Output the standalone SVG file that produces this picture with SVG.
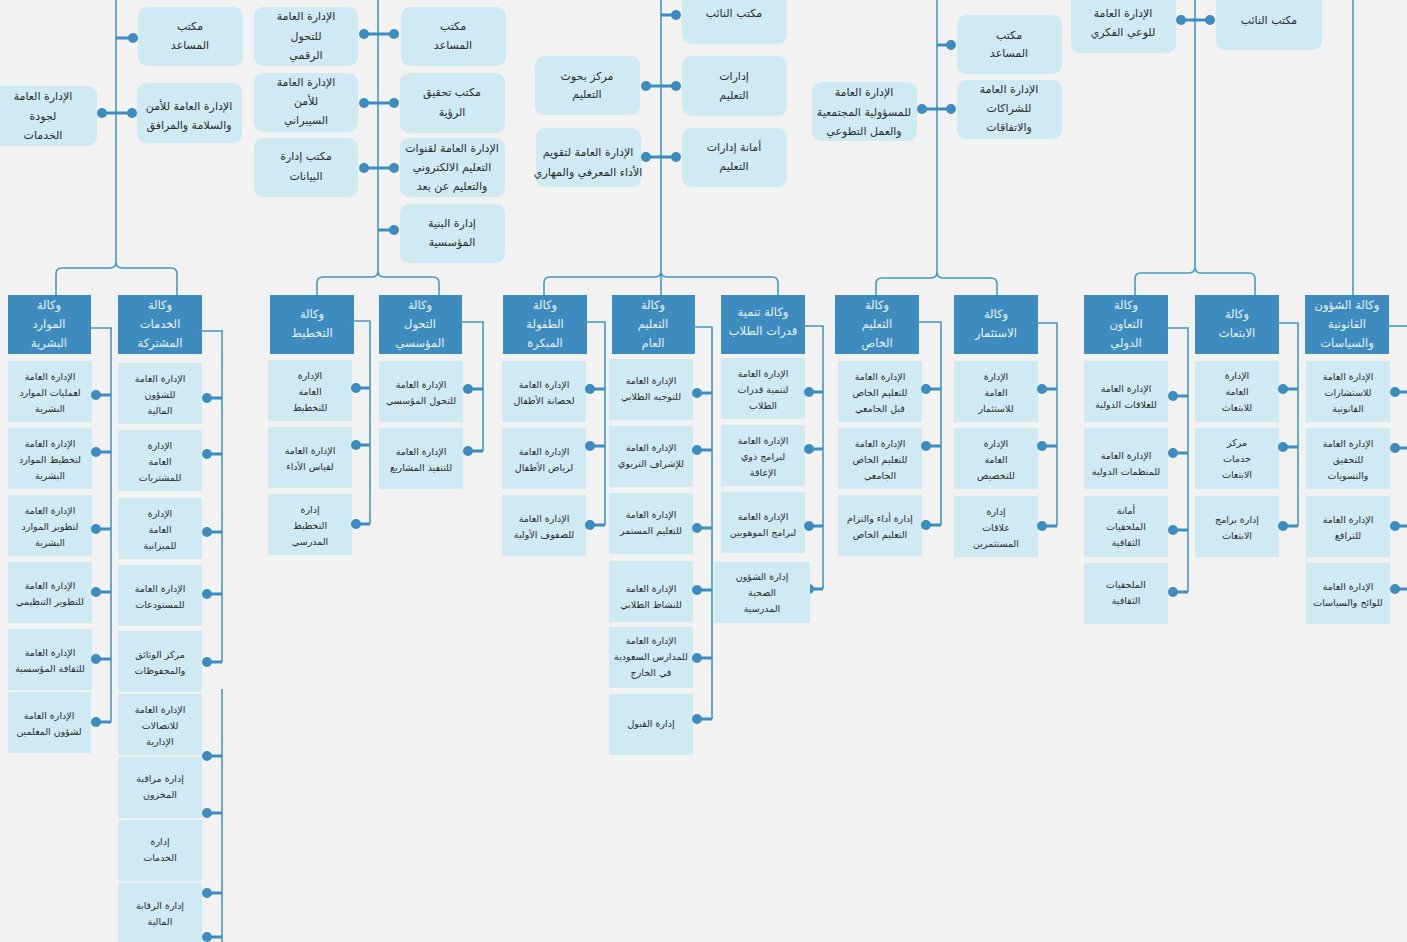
<svg xmlns="http://www.w3.org/2000/svg" width="1407" height="942" viewBox="0 0 1407 942">
<style>
.bg{fill:#f2f2f2}
.tb{fill:#cfeaf3}
.lb{fill:#cfeaf3}
.vk{fill:#3e8cbf}
.ln{fill:none;stroke:#4598c2;stroke-width:1.6}
.tk{fill:none;stroke:#3d8dc0;stroke-width:3}
.dt{fill:#3d8cc0}
text{font-family:"DejaVu Sans",sans-serif;text-anchor:middle;fill:#2b2b2b}
.tt{font-size:11px}
.t{font-size:9.5px}
.vt{font-size:11.5px;fill:#e8f2f9}
</style>
<rect class="bg" x="0" y="0" width="1407" height="942"/>

<!-- top groups -->
<g id="top1">
<g id="t1a"><rect class="tb" x="138" y="7" width="105" height="59" rx="9"/><text class="tt" x="190" y="30">مكتب</text><text class="tt" x="190" y="49">المساعد</text></g>
<g id="t1b"><rect class="tb" x="137" y="83" width="105" height="60" rx="9"/><text class="tt" x="189" y="110">الإدارة العامة للأمن</text><text class="tt" x="189" y="129">والسلامة والمرافق</text></g>
<g id="t1c"><rect class="tb" x="-10" y="86" width="107" height="60" rx="9"/><text class="tt" x="43" y="100">الإدارة العامة</text><text class="tt" x="43" y="120">لجودة</text><text class="tt" x="43" y="139">الخدمات</text></g>
</g>
<g id="top2">
<g id="t2a"><rect class="tb" x="254" y="7" width="104" height="59" rx="9"/><text class="tt" x="306" y="20">الإدارة العامة</text><text class="tt" x="306" y="40">للتحول</text><text class="tt" x="306" y="59">الرقمي</text></g>
<g id="t2b"><rect class="tb" x="254" y="73" width="104" height="59" rx="9"/><text class="tt" x="306" y="86">الإدارة العامة</text><text class="tt" x="306" y="105">للأمن</text><text class="tt" x="306" y="124">السيبراني</text></g>
<g id="t2c"><rect class="tb" x="254" y="138" width="104" height="59" rx="9"/><text class="tt" x="306" y="160">مكتب إدارة</text><text class="tt" x="306" y="180">البيانات</text></g>
<g id="t2d"><rect class="tb" x="401" y="7" width="105" height="59" rx="9"/><text class="tt" x="453" y="30">مكتب</text><text class="tt" x="453" y="49">المساعد</text></g>
<g id="t2e"><rect class="tb" x="400" y="73" width="105" height="60" rx="9"/><text class="tt" x="452" y="96">مكتب تحقيق</text><text class="tt" x="452" y="116">الرؤية</text></g>
<g id="t2f"><rect class="tb" x="400" y="138" width="105" height="59" rx="9"/><text class="tt" x="452" y="152">الإدارة العامة لقنوات</text><text class="tt" x="452" y="171">التعليم الالكتروني</text><text class="tt" x="452" y="190">والتعليم عن بعد</text></g>
<g id="t2g"><rect class="tb" x="400" y="204" width="105" height="59" rx="9"/><text class="tt" x="452" y="227">إدارة البنية</text><text class="tt" x="452" y="246">المؤسسية</text></g>
</g>
<g id="top3">
<g id="t3a"><rect class="tb" x="535" y="56" width="105" height="59" rx="9"/><text class="tt" x="587" y="80">مركز بحوث</text><text class="tt" x="587" y="98">التعليم</text></g>
<g id="t3b"><rect class="tb" x="536" y="128" width="105" height="59" rx="9"/><text class="tt" x="588" y="156">الإدارة العامة لتقويم</text><text class="tt" x="588" y="176">الأداء المعرفي والمهاري</text></g>
<g id="t3c"><rect class="tb" x="682" y="-10" width="105" height="54" rx="9"/><text class="tt" x="734" y="17">مكتب النائب</text></g>
<g id="t3d"><rect class="tb" x="682" y="56" width="105" height="60" rx="9"/><text class="tt" x="734" y="80">إدارات</text><text class="tt" x="734" y="99">التعليم</text></g>
<g id="t3e"><rect class="tb" x="682" y="128" width="105" height="59" rx="9"/><text class="tt" x="734" y="151">أمانة إدارات</text><text class="tt" x="734" y="170">التعليم</text></g>
</g>
<g id="top4">
<g id="t4a"><rect class="tb" x="812" y="82" width="105" height="59" rx="9"/><text class="tt" x="864" y="96">الإدارة العامة</text><text class="tt" x="864" y="116">للمسؤولية المجتمعية</text><text class="tt" x="864" y="135">والعمل التطوعي</text></g>
<g id="t4b"><rect class="tb" x="957" y="15" width="105" height="59" rx="9"/><text class="tt" x="1009" y="39">مكتب</text><text class="tt" x="1009" y="57">المساعد</text></g>
<g id="t4c"><rect class="tb" x="957" y="80" width="105" height="59" rx="9"/><text class="tt" x="1009" y="93">الإدارة العامة</text><text class="tt" x="1009" y="112">للشراكات</text><text class="tt" x="1009" y="131">والاتفاقات</text></g>
</g>
<g id="top5">
<g id="t5a"><rect class="tb" x="1071" y="-10" width="105" height="63" rx="9"/><text class="tt" x="1123" y="17">الإدارة العامة</text><text class="tt" x="1123" y="36">للوعي الفكري</text></g>
<g id="t5b"><rect class="tb" x="1216" y="-10" width="106" height="60" rx="9"/><text class="tt" x="1269" y="24">مكتب النائب</text></g>
</g>

<!-- agencies -->
<g id="vA"><rect class="vk" x="8" y="295" width="83" height="59"/><text class="vt" x="49" y="309">وكالة</text><text class="vt" x="49" y="328">الموارد</text><text class="vt" x="49" y="347">البشرية</text></g>
<g id="vB"><rect class="vk" x="118" y="295" width="84" height="59"/><text class="vt" x="160" y="309">وكالة</text><text class="vt" x="160" y="328">الخدمات</text><text class="vt" x="160" y="347">المشتركة</text></g>
<g id="vC"><rect class="vk" x="270" y="295" width="84" height="59"/><text class="vt" x="312" y="318">وكالة</text><text class="vt" x="312" y="337">التخطيط</text></g>
<g id="vD"><rect class="vk" x="379" y="295" width="83" height="59"/><text class="vt" x="420" y="309">وكالة</text><text class="vt" x="420" y="328">التحول</text><text class="vt" x="420" y="347">المؤسسي</text></g>
<g id="vE"><rect class="vk" x="503" y="295" width="84" height="59"/><text class="vt" x="545" y="309">وكالة</text><text class="vt" x="545" y="328">الطفولة</text><text class="vt" x="545" y="347">المبكرة</text></g>
<g id="vF"><rect class="vk" x="612" y="295" width="83" height="59"/><text class="vt" x="653" y="309">وكالة</text><text class="vt" x="653" y="328">التعليم</text><text class="vt" x="653" y="347">العام</text></g>
<g id="vG"><rect class="vk" x="721" y="295" width="84" height="59"/><text class="vt" x="763" y="316">وكالة تنمية</text><text class="vt" x="763" y="335">قدرات الطلاب</text></g>
<g id="vH"><rect class="vk" x="835" y="295" width="84" height="59"/><text class="vt" x="877" y="309">وكالة</text><text class="vt" x="877" y="328">التعليم</text><text class="vt" x="877" y="347">الخاص</text></g>
<g id="vI"><rect class="vk" x="954" y="295" width="84" height="59"/><text class="vt" x="996" y="318">وكالة</text><text class="vt" x="996" y="337">الاستثمار</text></g>
<g id="vJ"><rect class="vk" x="1084" y="295" width="84" height="59"/><text class="vt" x="1126" y="309">وكالة</text><text class="vt" x="1126" y="328">التعاون</text><text class="vt" x="1126" y="347">الدولي</text></g>
<g id="vK"><rect class="vk" x="1195" y="295" width="84" height="59"/><text class="vt" x="1237" y="318">وكالة</text><text class="vt" x="1237" y="337">الابتعاث</text></g>
<g id="vL"><rect class="vk" x="1305" y="295" width="84" height="59"/><text class="vt" x="1347" y="309">وكالة الشؤون</text><text class="vt" x="1347" y="328">القانونية</text><text class="vt" x="1347" y="347">والسياسات</text></g>

<!-- column A -->
<g id="a1"><rect class="lb" x="8" y="361" width="84" height="61"/><text class="t" x="50" y="380">الإدارة العامة</text><text class="t" x="50" y="396">لعمليات الموارد</text><text class="t" x="50" y="412">البشرية</text></g>
<g id="a2"><rect class="lb" x="8" y="428" width="84" height="61"/><text class="t" x="50" y="447">الإدارة العامة</text><text class="t" x="50" y="463">لتخطيط الموارد</text><text class="t" x="50" y="479">البشرية</text></g>
<g id="a3"><rect class="lb" x="8" y="495" width="84" height="61"/><text class="t" x="50" y="514">الإدارة العامة</text><text class="t" x="50" y="530">لتطوير الموارد</text><text class="t" x="50" y="546">البشرية</text></g>
<g id="a4"><rect class="lb" x="8" y="562" width="84" height="61"/><text class="t" x="50" y="589">الإدارة العامة</text><text class="t" x="50" y="605">للتطوير التنظيمي</text></g>
<g id="a5"><rect class="lb" x="8" y="629" width="84" height="61"/><text class="t" x="50" y="656">الإدارة العامة</text><text class="t" x="50" y="672">للثقافة المؤسسية</text></g>
<g id="a6"><rect class="lb" x="8" y="692" width="83" height="61"/><text class="t" x="49" y="719">الإدارة العامة</text><text class="t" x="49" y="735">لشؤون المعلمين</text></g>

<!-- column B -->
<g id="b1"><rect class="lb" x="118" y="363" width="84" height="61"/><text class="t" x="160" y="382">الإدارة العامة</text><text class="t" x="160" y="398">للشؤون</text><text class="t" x="160" y="414">المالية</text></g>
<g id="b2"><rect class="lb" x="118" y="430" width="84" height="61"/><text class="t" x="160" y="449">الإدارة</text><text class="t" x="160" y="465">العامة</text><text class="t" x="160" y="481">للمشتريات</text></g>
<g id="b3"><rect class="lb" x="118" y="498" width="84" height="61"/><text class="t" x="160" y="517">الإدارة</text><text class="t" x="160" y="533">العامة</text><text class="t" x="160" y="549">للميزانية</text></g>
<g id="b4"><rect class="lb" x="118" y="565" width="84" height="61"/><text class="t" x="160" y="592">الإدارة العامة</text><text class="t" x="160" y="608">للمستودعات</text></g>
<g id="b5"><rect class="lb" x="118" y="631" width="84" height="61"/><text class="t" x="160" y="658">مركز الوثائق</text><text class="t" x="160" y="674">والمحفوظات</text></g>
<g id="b6"><rect class="lb" x="118" y="694" width="84" height="61"/><text class="t" x="160" y="713">الإدارة العامة</text><text class="t" x="160" y="729">للاتصالات</text><text class="t" x="160" y="745">الإدارية</text></g>
<g id="b7"><rect class="lb" x="118" y="757" width="84" height="61"/><text class="t" x="160" y="782">إدارة مراقبة</text><text class="t" x="160" y="798">المخزون</text></g>
<g id="b8"><rect class="lb" x="118" y="820" width="84" height="61"/><text class="t" x="160" y="845">إدارة</text><text class="t" x="160" y="861">الخدمات</text></g>
<g id="b9"><rect class="lb" x="118" y="883" width="84" height="61"/><text class="t" x="160" y="909">إدارة الرقابة</text><text class="t" x="160" y="925">المالية</text></g>

<!-- column C -->
<g id="c1"><rect class="lb" x="268" y="360" width="84" height="61"/><text class="t" x="310" y="379">الإدارة</text><text class="t" x="310" y="395">العامة</text><text class="t" x="310" y="411">للتخطيط</text></g>
<g id="c2"><rect class="lb" x="268" y="427" width="84" height="61"/><text class="t" x="310" y="454">الإدارة العامة</text><text class="t" x="310" y="470">لقياس الأداء</text></g>
<g id="c3"><rect class="lb" x="268" y="494" width="84" height="61"/><text class="t" x="310" y="513">إدارة</text><text class="t" x="310" y="529">التخطيط</text><text class="t" x="310" y="545">المدرسي</text></g>

<!-- column D -->
<g id="d1"><rect class="lb" x="379" y="361" width="84" height="61"/><text class="t" x="421" y="388">الإدارة العامة</text><text class="t" x="421" y="404">للتحول المؤسسي</text></g>
<g id="d2"><rect class="lb" x="379" y="428" width="84" height="61"/><text class="t" x="421" y="455">الإدارة العامة</text><text class="t" x="421" y="471">للتنفيذ المشاريع</text></g>

<!-- column E -->
<g id="e1"><rect class="lb" x="502" y="361" width="84" height="61"/><text class="t" x="544" y="388">الإدارة العامة</text><text class="t" x="544" y="404">لحضانة الأطفال</text></g>
<g id="e2"><rect class="lb" x="502" y="428" width="84" height="61"/><text class="t" x="544" y="455">الإدارة العامة</text><text class="t" x="544" y="471">لرياض الأطفال</text></g>
<g id="e3"><rect class="lb" x="502" y="495" width="84" height="61"/><text class="t" x="544" y="522">الإدارة العامة</text><text class="t" x="544" y="538">للصفوف الأولية</text></g>

<!-- column F -->
<g id="f1"><rect class="lb" x="609" y="359" width="84" height="61"/><text class="t" x="651" y="384">الإدارة العامة</text><text class="t" x="651" y="400">للتوجيه الطلابي</text></g>
<g id="f2"><rect class="lb" x="609" y="426" width="84" height="61"/><text class="t" x="651" y="451">الإدارة العامة</text><text class="t" x="651" y="467">للإشراف التربوي</text></g>
<g id="f3"><rect class="lb" x="609" y="493" width="84" height="61"/><text class="t" x="651" y="518">الإدارة العامة</text><text class="t" x="651" y="534">للتعليم المستمر</text></g>
<g id="f4"><rect class="lb" x="609" y="561" width="84" height="61"/><text class="t" x="651" y="592">الإدارة العامة</text><text class="t" x="651" y="608">للنشاط الطلابي</text></g>
<g id="f5"><rect class="lb" x="609" y="627" width="84" height="61"/><text class="t" x="651" y="644">الإدارة العامة</text><text class="t" x="651" y="660">للمدارس السعودية</text><text class="t" x="651" y="676">في الخارج</text></g>
<g id="f6"><rect class="lb" x="609" y="694" width="84" height="61"/><text class="t" x="651" y="727">إدارة القبول</text></g>

<!-- column G -->
<g id="g1"><rect class="lb" x="721" y="358" width="84" height="61"/><text class="t" x="763" y="377">الإدارة العامة</text><text class="t" x="763" y="393">لتنمية قدرات</text><text class="t" x="763" y="409">الطلاب</text></g>
<g id="g2"><rect class="lb" x="721" y="425" width="84" height="61"/><text class="t" x="763" y="444">الإدارة العامة</text><text class="t" x="763" y="460">لبرامج ذوي</text><text class="t" x="763" y="476">الإعاقة</text></g>
<g id="g3"><rect class="lb" x="721" y="492" width="84" height="61"/><text class="t" x="763" y="520">الإدارة العامة</text><text class="t" x="763" y="536">لبرامج الموهوبين</text></g>

<!-- column H -->
<g id="h1"><rect class="lb" x="838" y="361" width="84" height="61"/><text class="t" x="880" y="380">الإدارة العامة</text><text class="t" x="880" y="396">للتعليم الخاص</text><text class="t" x="880" y="412">قبل الجامعي</text></g>
<g id="h2"><rect class="lb" x="838" y="428" width="84" height="61"/><text class="t" x="880" y="447">الإدارة العامة</text><text class="t" x="880" y="463">للتعليم الخاص</text><text class="t" x="880" y="479">الجامعي</text></g>
<g id="h3"><rect class="lb" x="838" y="495" width="84" height="61"/><text class="t" x="880" y="522">إدارة أداء والتزام</text><text class="t" x="880" y="538">التعليم الخاص</text></g>

<!-- column I -->
<g id="i1"><rect class="lb" x="954" y="361" width="84" height="61"/><text class="t" x="996" y="380">الإدارة</text><text class="t" x="996" y="396">العامة</text><text class="t" x="996" y="412">للاستثمار</text></g>
<g id="i2"><rect class="lb" x="954" y="428" width="84" height="61"/><text class="t" x="996" y="447">الإدارة</text><text class="t" x="996" y="463">العامة</text><text class="t" x="996" y="479">للتخصيص</text></g>
<g id="i3"><rect class="lb" x="954" y="496" width="84" height="61"/><text class="t" x="996" y="515">إدارة</text><text class="t" x="996" y="531">علاقات</text><text class="t" x="996" y="547">المستثمرين</text></g>

<!-- column J -->
<g id="j1"><rect class="lb" x="1084" y="361" width="84" height="61"/><text class="t" x="1126" y="392">الإدارة العامة</text><text class="t" x="1126" y="408">للعلاقات الدولية</text></g>
<g id="j2"><rect class="lb" x="1084" y="428" width="84" height="61"/><text class="t" x="1126" y="459">الإدارة العامة</text><text class="t" x="1126" y="475">للمنظمات الدولية</text></g>
<g id="j3"><rect class="lb" x="1084" y="496" width="84" height="61"/><text class="t" x="1126" y="514">أمانة</text><text class="t" x="1126" y="530">الملحقيات</text><text class="t" x="1126" y="546">الثقافية</text></g>
<g id="j4"><rect class="lb" x="1084" y="563" width="84" height="61"/><text class="t" x="1126" y="588">الملحقيات</text><text class="t" x="1126" y="604">الثقافية</text></g>

<!-- column K -->
<g id="k1"><rect class="lb" x="1195" y="361" width="84" height="61"/><text class="t" x="1237" y="379">الإدارة</text><text class="t" x="1237" y="395">العامة</text><text class="t" x="1237" y="411">للابتعاث</text></g>
<g id="k2"><rect class="lb" x="1195" y="428" width="84" height="61"/><text class="t" x="1237" y="446">مركز</text><text class="t" x="1237" y="462">خدمات</text><text class="t" x="1237" y="478">الابتعاث</text></g>
<g id="k3"><rect class="lb" x="1195" y="496" width="84" height="61"/><text class="t" x="1237" y="523">إدارة برامج</text><text class="t" x="1237" y="539">الابتعاث</text></g>

<!-- column L -->
<g id="l1"><rect class="lb" x="1306" y="361" width="84" height="61"/><text class="t" x="1348" y="380">الإدارة العامة</text><text class="t" x="1348" y="396">للاستشارات</text><text class="t" x="1348" y="412">القانونية</text></g>
<g id="l2"><rect class="lb" x="1306" y="428" width="84" height="61"/><text class="t" x="1348" y="447">الإدارة العامة</text><text class="t" x="1348" y="463">للتحقيق</text><text class="t" x="1348" y="479">والتسويات</text></g>
<g id="l3"><rect class="lb" x="1306" y="496" width="84" height="61"/><text class="t" x="1348" y="523">الإدارة العامة</text><text class="t" x="1348" y="539">للترافع</text></g>
<g id="l4"><rect class="lb" x="1306" y="563" width="84" height="61"/><text class="t" x="1348" y="590">الإدارة العامة</text><text class="t" x="1348" y="606">للوائح والسياسات</text></g>

<g id="connectors">
<!-- trunks and forks -->
<path class="ln" d="M116,0 V262 Q116,268 110,268 H62 Q56,268 56,274 V295 M116,262 Q116,268 122,268 H171 Q177,268 177,274 V295"/>
<path class="ln" d="M378,0 V271 Q378,277 372,277 H323 Q317,277 317,283 V295 M378,271 Q378,277 384,277 H433 Q439,277 439,283 V295"/>
<path class="ln" d="M661,0 V295 M661,271 Q661,277 655,277 H550 Q544,277 544,283 V295 M661,271 Q661,277 667,277 H772 Q778,277 778,283 V295"/>
<path class="ln" d="M937,0 V272 Q937,278 931,278 H882 Q876,278 876,284 V295 M937,272 Q937,278 943,278 H991 Q997,278 997,284 V295"/>
<path class="ln" d="M1195,0 V267 Q1195,273 1189,273 H1141 Q1135,273 1135,279 V295 M1195,267 Q1195,273 1201,273 H1249 Q1255,273 1255,279 V295"/>
<path class="ln" d="M1353,0 V295"/>
<!-- top ticks -->
<path class="tk" d="M116,38 H133 M102,113 H132 M364,34 H394 M364,103 H394 M364,168 H394 M378,230 H394 M661,15 H676 M646,86 H676 M646,157 H676 M937,45 H951 M922,109 H951 M1181,20 H1210"/>
<g class="dt">
<circle cx="133" cy="38" r="5"/><circle cx="102" cy="113" r="5"/><circle cx="132" cy="113" r="5"/>
<circle cx="364" cy="34" r="5"/><circle cx="394" cy="34" r="5"/><circle cx="364" cy="103" r="5"/><circle cx="394" cy="103" r="5"/><circle cx="364" cy="168" r="5"/><circle cx="394" cy="168" r="5"/><circle cx="394" cy="230" r="5"/>
<circle cx="676" cy="15" r="5"/><circle cx="646" cy="86" r="5"/><circle cx="676" cy="86" r="5"/><circle cx="646" cy="157" r="5"/><circle cx="676" cy="157" r="5"/>
<circle cx="951" cy="45" r="5"/><circle cx="922" cy="109" r="5"/><circle cx="951" cy="109" r="5"/>
<circle cx="1181" cy="20" r="5"/><circle cx="1210" cy="20" r="5"/>
</g>
<!-- column buses -->
<path class="ln" d="M88,328 H111 V722"/>
<path class="ln" d="M199,331 H222 V662 M222,689 V942"/>
<path class="ln" d="M351,321 H370 V524"/>
<path class="ln" d="M459,322 H483 V451"/>
<path class="ln" d="M584,322 H605 V525"/>
<path class="ln" d="M692,327 H712 V719"/>
<path class="ln" d="M802,326 H823 V589"/>
<path class="ln" d="M916,322 H941 V525"/>
<path class="ln" d="M1035,323 H1057 V526"/>
<path class="ln" d="M1165,328 H1188 V592"/>
<path class="ln" d="M1276,323 H1298 V526"/>
<path class="ln" d="M1386,326 H1410"/>
<path class="tk" d="M96,395 H111 M96,452 H111 M96,529 H111 M96,592 H111 M96,659 H111 M96,722 H111
M207,398 H222 M207,454 H222 M207,532 H222 M207,594 H222 M207,662 H222 M207,756 H222 M207,813 H222 M207,893 H222 M207,937 H222
M356,388 H370 M356,445 H370 M356,524 H370
M468,389 H483 M468,451 H483
M590,389 H605 M590,446 H605 M590,525 H605
M697,393 H712 M697,450 H712 M697,528 H712 M697,590 H712 M697,658 H712 M697,719 H712
M809,392 H823 M809,449 H823 M809,526 H823 M809,589 H823
M926,389 H941 M926,446 H941 M926,525 H941
M1042,389 H1057 M1042,446 H1057 M1042,526 H1057
M1173,396 H1188 M1173,453 H1188 M1173,530 H1188 M1173,592 H1188
M1283,389 H1298 M1283,447 H1298 M1283,526 H1298
M1395,392 H1410 M1395,448 H1410 M1395,526 H1410 M1395,589 H1410"/>
<g class="dt">
<circle cx="96" cy="395" r="5"/><circle cx="96" cy="452" r="5"/><circle cx="96" cy="529" r="5"/><circle cx="96" cy="592" r="5"/><circle cx="96" cy="659" r="5"/><circle cx="96" cy="722" r="5"/>
<circle cx="207" cy="398" r="5"/><circle cx="207" cy="454" r="5"/><circle cx="207" cy="532" r="5"/><circle cx="207" cy="594" r="5"/><circle cx="207" cy="662" r="5"/><circle cx="207" cy="756" r="5"/><circle cx="207" cy="813" r="5"/><circle cx="207" cy="893" r="5"/><circle cx="207" cy="937" r="5"/>
<circle cx="356" cy="388" r="5"/><circle cx="356" cy="445" r="5"/><circle cx="356" cy="524" r="5"/>
<circle cx="468" cy="389" r="5"/><circle cx="468" cy="451" r="5"/>
<circle cx="590" cy="389" r="5"/><circle cx="590" cy="446" r="5"/><circle cx="590" cy="525" r="5"/>
<circle cx="697" cy="393" r="5"/><circle cx="697" cy="450" r="5"/><circle cx="697" cy="528" r="5"/><circle cx="697" cy="590" r="5"/><circle cx="697" cy="658" r="5"/><circle cx="697" cy="719" r="5"/>
<circle cx="809" cy="392" r="5"/><circle cx="809" cy="449" r="5"/><circle cx="809" cy="526" r="5"/><circle cx="809" cy="589" r="5"/>
<circle cx="926" cy="389" r="5"/><circle cx="926" cy="446" r="5"/><circle cx="926" cy="525" r="5"/>
<circle cx="1042" cy="389" r="5"/><circle cx="1042" cy="446" r="5"/><circle cx="1042" cy="526" r="5"/>
<circle cx="1173" cy="396" r="5"/><circle cx="1173" cy="453" r="5"/><circle cx="1173" cy="530" r="5"/><circle cx="1173" cy="592" r="5"/>
<circle cx="1283" cy="389" r="5"/><circle cx="1283" cy="447" r="5"/><circle cx="1283" cy="526" r="5"/>
<circle cx="1395" cy="392" r="5"/><circle cx="1395" cy="448" r="5"/><circle cx="1395" cy="526" r="5"/><circle cx="1395" cy="589" r="5"/>
</g>
</g>

<g id="g4"><rect class="lb" x="714" y="562" width="96" height="61"/><text class="t" x="762" y="580">إدارة الشؤون</text><text class="t" x="762" y="596">الصحية</text><text class="t" x="762" y="612">المدرسية</text></g>
</svg>
